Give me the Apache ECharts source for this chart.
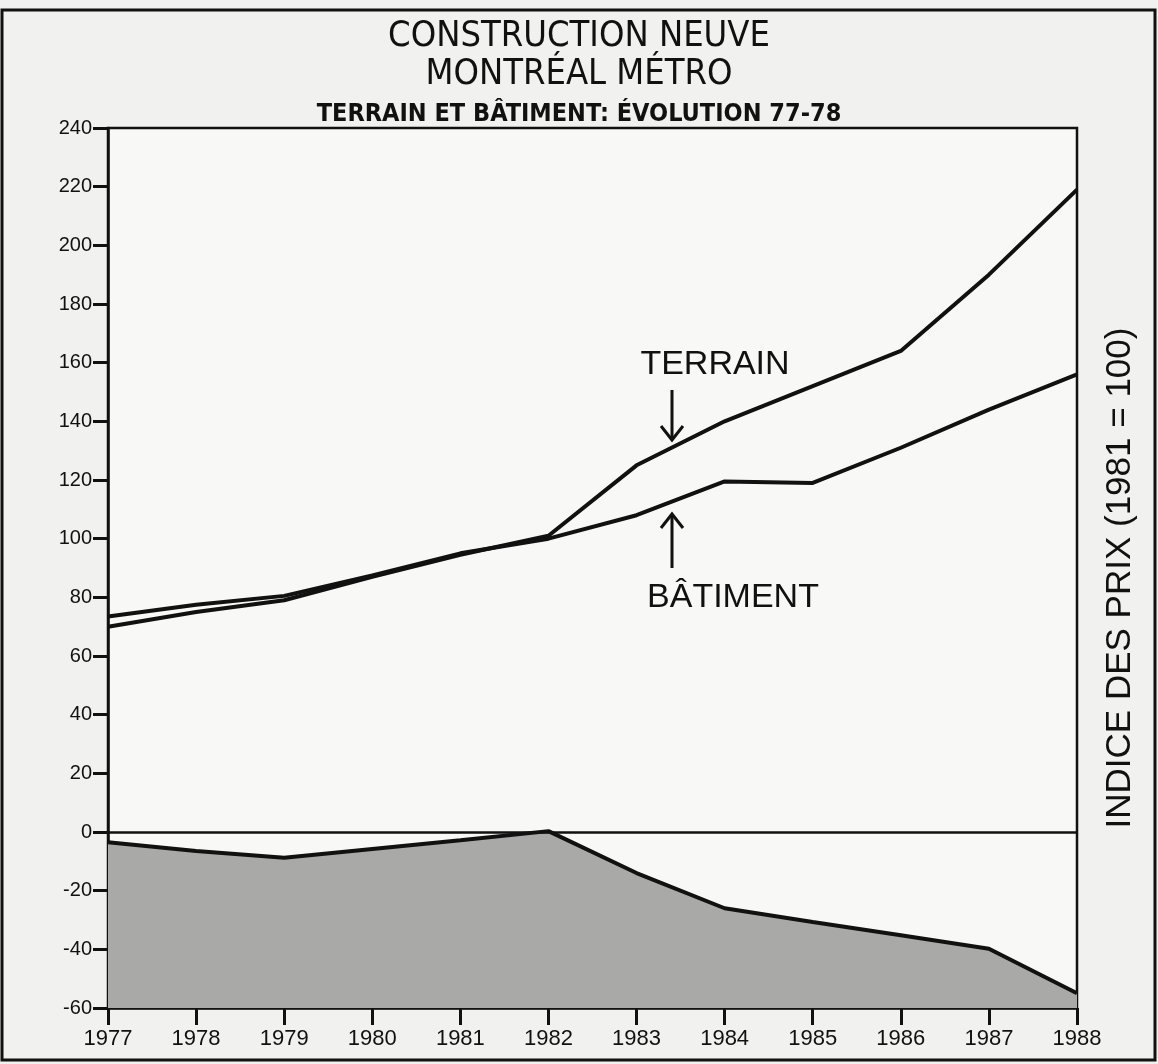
<!DOCTYPE html>
<html>
<head>
<meta charset="utf-8">
<script src="https://cdn.jsdelivr.net/npm/echarts@6/dist/echarts.min.js"></script>
<style>
  html, body { margin: 0; padding: 0; background: #f1f1ef; }
  #chart { width: 1158px; height: 1064px; }
</style>
</head>
<body>
<div id="chart"></div>
<script>
// données
const years    = ['1977', '1978', '1979', '1980', '1981', '1982', '1983', '1984', '1985', '1986', '1987', '1988'];
const terrain  = [70, 75, 79, 87, 94.5, 101, 125, 140, 152, 164, 190, 219];
const batiment = [73.5, 77.5, 80.5, 87.5, 95, 100, 108, 119.5, 119, 131, 144, 156];
const ratio    = [-3.5, -6.5, -8.8, -5.8, -2.8, 0.3, -14, -26, -30.7, -35.2, -39.8, -55];

const narrow = '"Liberation Sans Narrow", "DejaVu Sans Condensed", "Liberation Sans", sans-serif';
const sans   = '"Liberation Sans", Arial, sans-serif';

let chart = echarts.init(document.getElementById('chart'));

// flèche verticale (texte d'annotation)
function arrow(x, y1, y2) {
    let dir = y2 > y1 ? -1 : 1;
    return [
        { type: 'line', shape: { x1: x, y1: y1, x2: x, y2: y2 }, style: { stroke: '#111', lineWidth: 3 } },
        { type: 'polyline', shape: { points: [[x - 11, y2 + dir * 14], [x, y2], [x + 11, y2 + dir * 14]] },
          style: { stroke: '#111', lineWidth: 3, fill: null } }
    ];
}

let option = {
    backgroundColor: '#f1f1ef',
    animation: false,
    title: [
        { text: 'CONSTRUCTION NEUVE', left: 'center', top: 14,
          textStyle: { fontFamily: narrow, fontSize: 36, fontWeight: 'normal', color: '#111' } },
        { text: 'MONTRÉAL MÉTRO', left: 'center', top: 52,
          textStyle: { fontFamily: narrow, fontSize: 36, fontWeight: 'normal', color: '#111' } },
        { text: 'TERRAIN ET BÂTIMENT: ÉVOLUTION 77-78', left: 'center', top: 97,
          textStyle: { fontFamily: narrow, fontSize: 25, fontWeight: 'bold', color: '#111' } }
    ],
    grid: {
        left: 108, right: 81, top: 128, bottom: 56,
        show: true, backgroundColor: '#f8f8f6',
        borderColor: '#111', borderWidth: 2.5
    },
    xAxis: {
        type: 'category',
        data: years,
        boundaryGap: false,
        axisLine: { onZero: false, lineStyle: { color: '#111', width: 2.5 } },
        axisTick: { length: 17, lineStyle: { color: '#111', width: 3 } },
        axisLabel: { fontFamily: sans, fontSize: 22, color: '#111', margin: 20 },
        splitLine: { show: false }
    },
    yAxis: {
        type: 'value',
        min: -60, max: 240, interval: 20,
        axisLine: { show: true, lineStyle: { color: '#111', width: 2.5 } },
        axisTick: { show: true, length: 15, lineStyle: { color: '#111', width: 3 } },
        axisLabel: { fontFamily: sans, fontSize: 20, color: '#111', margin: 16, padding: [0, 0, 8, 0] },
        splitLine: { show: false }
    },
    series: [
        {
            name: 'TERRAIN / BÂTIMENT',
            type: 'line',
            data: ratio,
            symbol: 'none',
            lineStyle: { color: '#111', width: 4 },
            areaStyle: { color: '#a9a9a7', opacity: 1, origin: 'start' },
            z: 1
        },
        {
            name: 'TERRAIN',
            type: 'line',
            data: terrain,
            symbol: 'none',
            lineStyle: { color: '#111', width: 4 },
            markLine: {
                silent: true, symbol: 'none',
                label: { show: false },
                lineStyle: { color: '#111', width: 2.5, type: 'solid' },
                data: [{ yAxis: 0 }]
            },
            z: 3
        },
        {
            name: 'BÂTIMENT',
            type: 'line',
            data: batiment,
            symbol: 'none',
            lineStyle: { color: '#111', width: 4 },
            z: 3
        }
    ],
    graphic: [
        { type: 'rect', shape: { x: 2, y: 10, width: 1153, height: 1050 },
          style: { fill: null, stroke: '#111', lineWidth: 3 }, z: 100 },
        { type: 'text', x: 715, y: 365,
          style: { text: 'TERRAIN', fontFamily: sans, fontSize: 34, fill: '#111', align: 'center', verticalAlign: 'middle' } },
        { type: 'text', x: 733, y: 598,
          style: { text: 'BÂTIMENT', fontFamily: sans, fontSize: 34, fill: '#111', align: 'center', verticalAlign: 'middle' } },
        { type: 'text', x: 393, y: 937,
          style: { text: 'TERRAIN / BÂTIMENT', fontFamily: sans, fontSize: 34, fill: '#111', align: 'center', verticalAlign: 'middle' } },
        { type: 'text', x: 1120, y: 578, rotation: Math.PI / 2,
          style: { text: 'INDICE DES PRIX (1981 = 100)', fontFamily: sans, fontSize: 35, fill: '#111', align: 'center', verticalAlign: 'middle' } }
    ].concat(arrow(672, 390, 440), arrow(672, 568, 514))
};
chart.setOption(option);
</script>
</body>
</html>
